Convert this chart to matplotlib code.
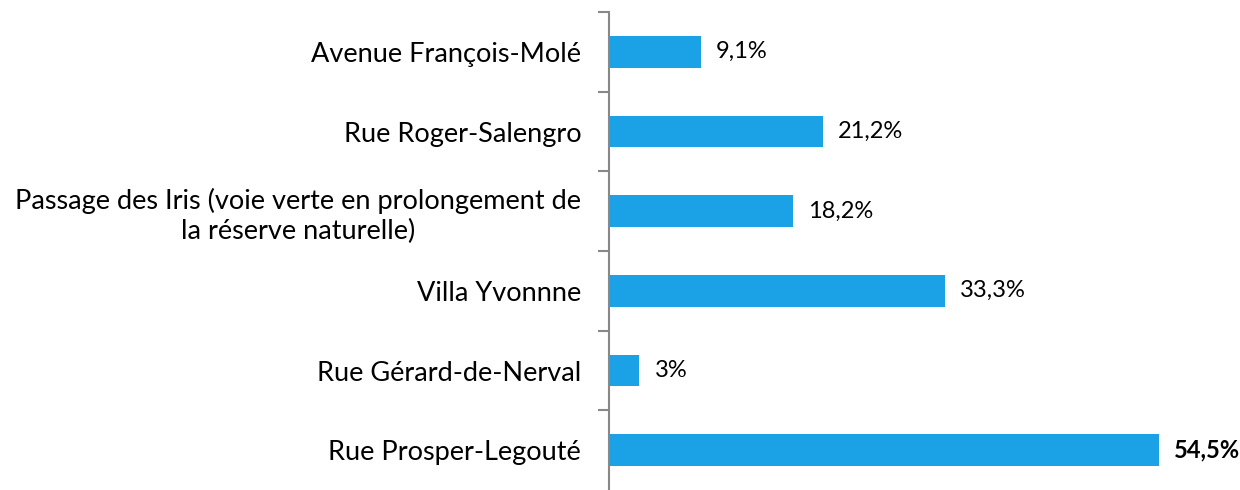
import matplotlib
matplotlib.use("Agg")
import matplotlib.pyplot as plt

# categories listed top to bottom, as in the picture
categories = [
    "Avenue François-Molé",
    "Rue Roger-Salengro",
    "Passage des Iris (voie verte en prolongement de\nla réserve naturelle)",
    "Villa Yvonnne",
    "Rue Gérard-de-Nerval",
    "Rue Prosper-Legouté",
]
values = [9.1, 21.2, 18.2, 33.3, 3, 54.5]
value_labels = ["9,1%", "21,2%", "18,2%", "33,3%", "3%", "54,5%"]

bar_color = "#1BA1E6"
font = ["Lato", "DejaVu Sans"]

fig = plt.figure(figsize=(12.4, 4.9), dpi=100)
ax = fig.add_axes([609 / 1240, 0.0, 1 - 609 / 1240, 1 - 12 / 490])

y = list(range(len(categories)))
ax.barh(y, values, height=0.4, color=bar_color)
ax.set_ylim(len(categories) - 0.5, -0.5)
ax.set_xlim(0, 62.5)

# value labels, the largest one in bold
top = max(values)
for yi, v, lab in zip(y, values, value_labels):
    ax.text(v + 1.5, yi, lab, va="center", ha="left", fontsize=17, family=font,
            fontweight="bold" if v == top else "normal", color="black")

# category names, tick marks sit between the categories
ax.set_yticks(y)
ax.set_yticklabels(categories, fontsize=19.5, family=font, multialignment="center",
                   linespacing=1.25)
ax.tick_params(axis="y", which="major", length=0, pad=20)
ax.set_yticks([i - 0.5 for i in range(len(categories))], minor=True)
ax.tick_params(axis="y", which="minor", length=8, width=1.5, color="#888888")
ax.set_xticks([])

for side in ["top", "right", "bottom"]:
    ax.spines[side].set_visible(False)
ax.spines["left"].set_color("#888888")
ax.spines["left"].set_linewidth(1.5)

fig.savefig("out.png", dpi=100)
